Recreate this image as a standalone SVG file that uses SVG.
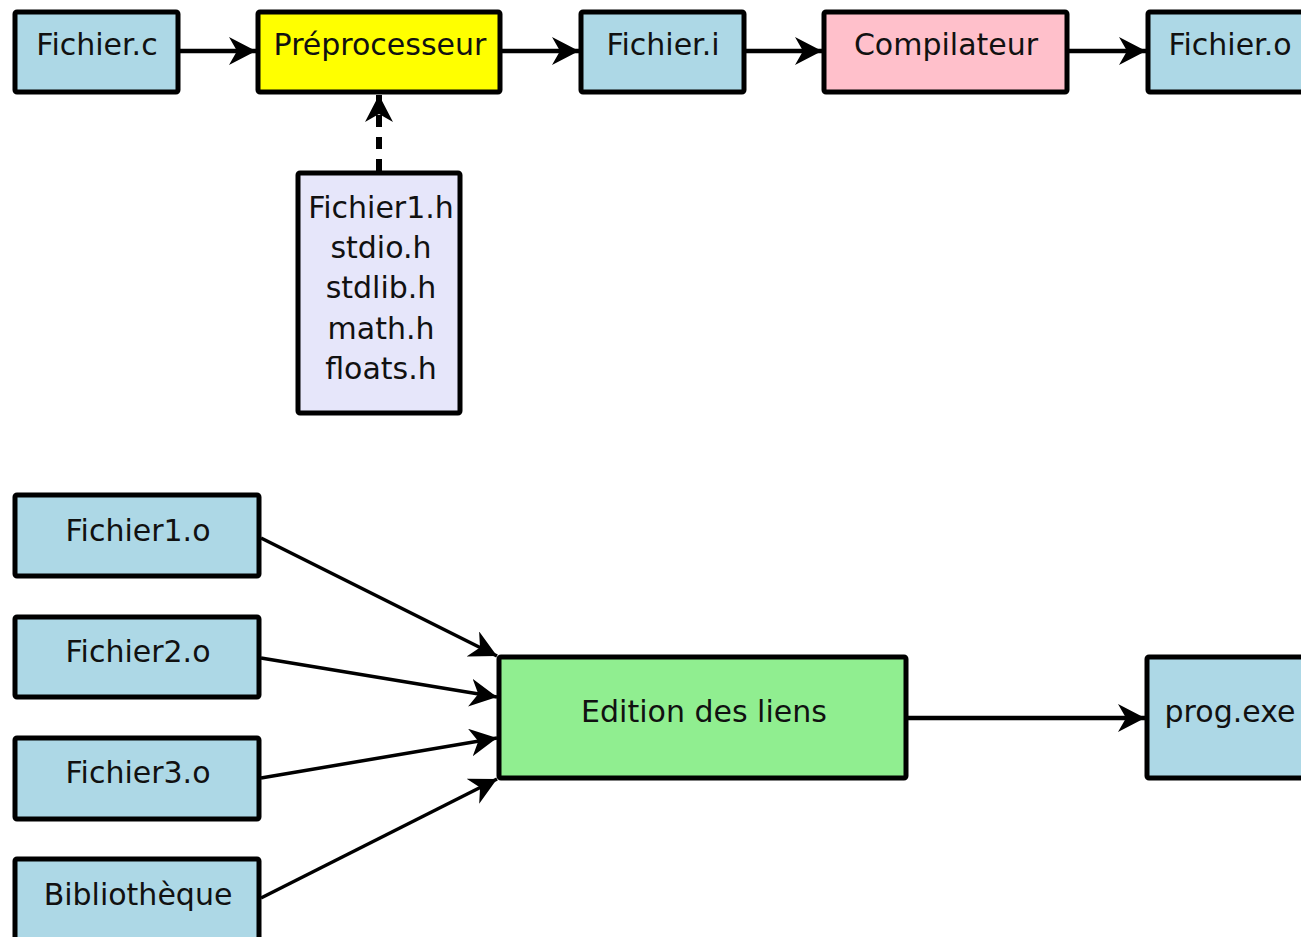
<svg xmlns="http://www.w3.org/2000/svg" width="1301" height="937" viewBox="0 0 1301 937">
  <style>
    .box { stroke: #000; stroke-width: 5; }
    .src { fill: #add8e6; }
    .pre { fill: #ffff00; }
    .comp { fill: #ffc0cb; }
    .hdr { fill: #e6e6fa; }
    .link { fill: #90ee90; }
    .lbl { font-family: "DejaVu Sans", "Liberation Sans", sans-serif; font-size: 30px; fill: #111; text-anchor: middle; }
    .edge { stroke: #000; stroke-width: 4.5; fill: none; }
    .thin { stroke-width: 3.5; }
    .dash { stroke-width: 6; stroke-dasharray: 12 10; }
  </style>
  <defs>
    <marker id="head" markerUnits="userSpaceOnUse" markerWidth="30" markerHeight="30" refX="27" refY="14" orient="auto">
      <path d="M27,14 L0,0 L8,14 L0,28 Z" fill="#000"/>
    </marker>
  </defs>

  <rect width="1301" height="937" fill="#fff"/>

  <!-- connectors -->
  <g id="edges">
    <line class="edge" x1="180" y1="51" x2="256" y2="51" marker-end="url(#head)"/>
    <line class="edge" x1="502" y1="51" x2="579" y2="51" marker-end="url(#head)"/>
    <line class="edge" x1="746" y1="51" x2="822" y2="51" marker-end="url(#head)"/>
    <line class="edge" x1="1069" y1="51" x2="1146" y2="51" marker-end="url(#head)"/>
    <line class="edge dash" x1="379" y1="171" x2="379" y2="95" marker-end="url(#head)"/>
    <line class="edge thin" x1="261" y1="538" x2="497" y2="656" marker-end="url(#head)"/>
    <line class="edge thin" x1="261" y1="658" x2="497" y2="697" marker-end="url(#head)"/>
    <line class="edge thin" x1="261" y1="778" x2="497" y2="738" marker-end="url(#head)"/>
    <line class="edge thin" x1="261" y1="898" x2="497" y2="779" marker-end="url(#head)"/>
    <line class="edge" x1="908" y1="718" x2="1145" y2="718" marker-end="url(#head)"/>
  </g>

  <!-- compilation chain -->
  <g id="fichier-c">
    <rect class="box src" x="15" y="12" width="163" height="80" rx="2"/>
    <text class="lbl" x="97" y="55">Fichier.c</text>
  </g>
  <g id="preprocesseur">
    <rect class="box pre" x="258" y="12" width="242" height="80" rx="2"/>
    <text class="lbl" x="380" y="55">Préprocesseur</text>
  </g>
  <g id="fichier-i">
    <rect class="box src" x="581" y="12" width="163" height="80" rx="2"/>
    <text class="lbl" x="663" y="55">Fichier.i</text>
  </g>
  <g id="compilateur">
    <rect class="box comp" x="824" y="12" width="243" height="80" rx="2"/>
    <text class="lbl" x="946" y="55">Compilateur</text>
  </g>
  <g id="fichier-o">
    <rect class="box src" x="1148" y="12" width="164" height="80" rx="2"/>
    <text class="lbl" x="1230" y="55">Fichier.o</text>
  </g>

  <!-- headers -->
  <g id="headers">
    <rect class="box hdr" x="298" y="173" width="162" height="240" rx="2"/>
    <text class="lbl" x="381" y="218">Fichier1.h</text>
    <text class="lbl" x="381" y="258">stdio.h</text>
    <text class="lbl" x="381" y="298">stdlib.h</text>
    <text class="lbl" x="381" y="339">math.h</text>
    <text class="lbl" x="381" y="379">floats.h</text>
  </g>

  <!-- link stage -->
  <g id="fichier1-o">
    <rect class="box src" x="15" y="495" width="244" height="81" rx="2"/>
    <text class="lbl" x="138" y="541">Fichier1.o</text>
  </g>
  <g id="fichier2-o">
    <rect class="box src" x="15" y="617" width="244" height="80" rx="2"/>
    <text class="lbl" x="138" y="662">Fichier2.o</text>
  </g>
  <g id="fichier3-o">
    <rect class="box src" x="15" y="738" width="244" height="81" rx="2"/>
    <text class="lbl" x="138" y="783">Fichier3.o</text>
  </g>
  <g id="bibliotheque">
    <rect class="box src" x="15" y="859" width="244" height="81" rx="2"/>
    <text class="lbl" x="138" y="905">Bibliothèque</text>
  </g>
  <g id="edition-liens">
    <rect class="box link" x="499" y="657" width="407" height="121" rx="2"/>
    <text class="lbl" x="704" y="722">Edition des liens</text>
  </g>
  <g id="prog-exe">
    <rect class="box src" x="1147" y="657" width="165" height="121" rx="2"/>
    <text class="lbl" x="1230" y="722">prog.exe</text>
  </g>
</svg>
